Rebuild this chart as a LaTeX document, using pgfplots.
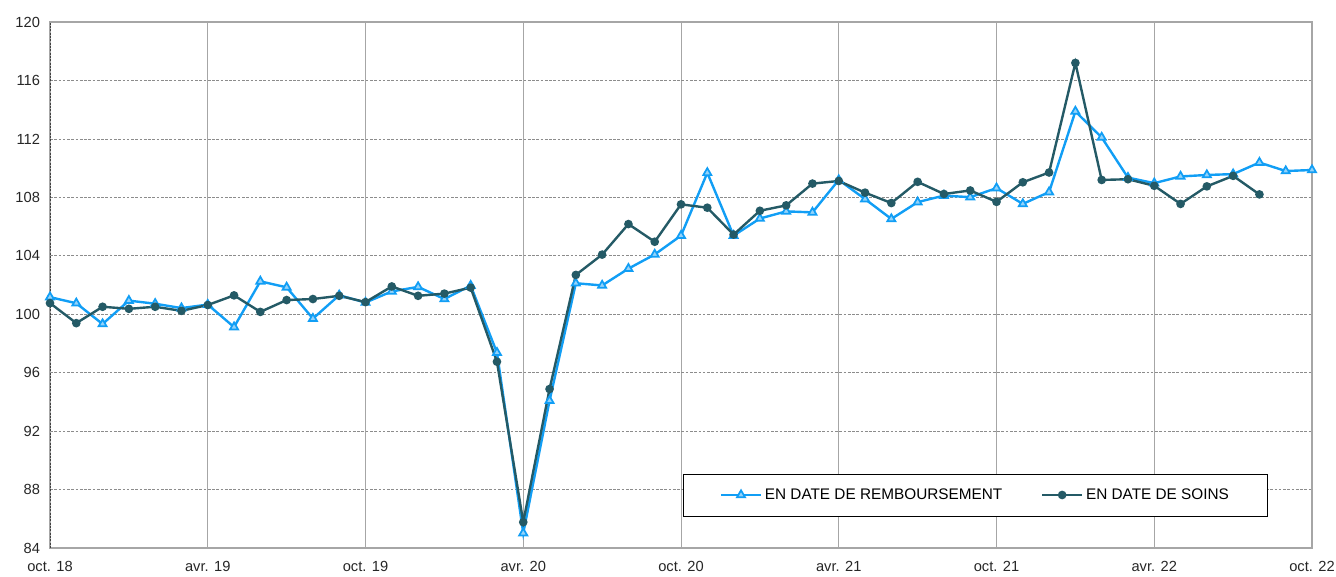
\documentclass[border=0pt]{standalone}
\usepackage{fontspec}
\setmainfont{Liberation Sans}
\usepackage{pgfplots}
\pgfplotsset{compat=1.18}
\definecolor{rembl}{HTML}{119EF5}
\definecolor{soins}{HTML}{245A66}
\definecolor{gridc}{HTML}{A6A6A6}

% month index: 0 = oct. 18, 48 = oct. 22
\pgfplotstableread{
m  v
0  101.17
1  100.75
2  99.33
3  100.93
4  100.72
5  100.42
6  100.66
7  99.12
8  102.25
9  101.84
10 99.70
11 101.30
12 100.80
13 101.56
14 101.87
15 101.04
16 101.96
17 97.37
18 85.02
19 94.08
20 102.12
21 101.97
22 103.12
23 104.09
24 105.38
25 109.68
26 105.38
27 106.55
28 107.04
29 106.97
30 109.19
31 107.88
32 106.52
33 107.67
34 108.12
35 108.01
36 108.63
37 107.55
38 108.36
39 113.88
40 112.10
41 109.35
42 108.97
43 109.43
44 109.53
45 109.59
46 110.38
47 109.80
48 109.87
}\remb

\pgfplotstableread{
m  v
0  100.76
1  99.39
2  100.51
3  100.37
4  100.51
5  100.23
6  100.63
7  101.29
8  100.16
9  100.97
10 101.04
11 101.26
12 100.83
13 101.90
14 101.26
15 101.41
16 101.82
17 96.75
18 85.77
19 94.88
20 102.69
21 104.08
22 106.17
23 104.96
24 107.52
25 107.29
26 105.45
27 107.08
28 107.45
29 108.94
30 109.12
31 108.32
32 107.61
33 109.06
34 108.23
35 108.47
36 107.69
37 109.03
38 109.70
39 117.20
40 109.19
41 109.24
42 108.79
43 107.55
44 108.75
45 109.47
46 108.20
}\soins

\begin{document}
\begin{tikzpicture}
\begin{axis}[
  scale only axis, width=946.5pt, height=394.5pt,
  xmin=0, xmax=48, ymin=84, ymax=120,
  xtick={0,6,...,48},
  xticklabels={oct. 18,avr. 19,oct. 19,avr. 20,oct. 20,avr. 21,oct. 21,avr. 22,oct. 22},
  ytick={84,88,...,120},
  /pgf/number format/assume math mode=true,
  ticklabel style={font=\fontsize{11}{13}\selectfont, text=black!85},
  xticklabel style={yshift=-6.5pt, inner xsep=0pt},
  yticklabel style={xshift=-4pt},
  major tick length=0pt,
  xtick pos=bottom, ytick pos=left,
  xmajorgrids, ymajorgrids,
  x grid style={gridc, line width=0.75pt},
  y grid style={black!45, dash pattern=on 2pt off 1.2pt, line width=0.5pt},
  axis line style={draw=gridc, line width=1pt},
  legend columns=2,
  legend cell align=left,
  legend style={at={(0.7335,0.1008)}, anchor=center, draw=black, line width=0.6pt,
    font=\fontsize{11.5}{13}\selectfont, inner xsep=27pt, inner ysep=9pt,
    /tikz/every even column/.append style={column sep=27pt}},
  legend image code/.code={\draw[mark repeat=2,mark phase=2,#1] plot coordinates {(0pt,0pt) (15pt,0pt) (30pt,0pt)};},
]
\addplot[rembl, line width=1.8pt, mark=triangle*, mark size=3.5pt,
  mark options={solid, fill=rembl!45, draw=rembl, line width=1.3pt}] table[x=m,y=v] {\remb};
\addlegendentry{EN DATE DE REMBOURSEMENT}
\addplot[soins, line width=1.8pt, mark=*, mark size=2.3pt,
  mark options={solid, fill=soins}] table[x=m,y=v] {\soins};
\addlegendentry{EN DATE DE SOINS}
\draw[black!75, dash pattern=on 1.5pt off 1pt, line width=1pt] (rel axis cs:0,0) -- (rel axis cs:0,1);
\end{axis}
\path (current axis.south west) +(-37.5pt,-19.5pt) (current axis.north east) +(18pt,16.5pt);
\end{tikzpicture}
\end{document}
